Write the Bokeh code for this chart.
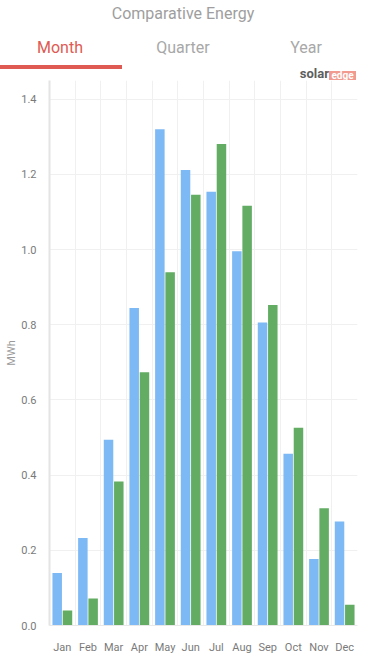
from bokeh.plotting import figure
from bokeh.models import Range1d, FixedTicker, ColumnDataSource, PrintfTickFormatter, Div
from bokeh.layouts import column
from bokeh.transform import dodge
from bokeh.embed import file_html
from bokeh.resources import INLINE

title = "Comparative Energy"
tabs = ["Month", "Quarter", "Year"]
months = ["Jan", "Feb", "Mar", "Apr", "May", "Jun", "Jul", "Aug", "Sep", "Oct", "Nov", "Dec"]
series_blue = [0.140, 0.233, 0.494, 0.845, 1.320, 1.212, 1.154, 0.996, 0.806, 0.457, 0.177, 0.277]
series_green = [0.040, 0.072, 0.383, 0.674, 0.940, 1.146, 1.281, 1.117, 0.853, 0.526, 0.312, 0.055]
y_ticks = [0.0, 0.2, 0.4, 0.6, 0.8, 1.0, 1.2, 1.4]
y_label = "MWh"
logo_parts = ["solar", "edge"]

FONT = "Roboto"
BLUE = "#7db9f4"
GREEN = "#62ad63"
RED = "#de5a52"
GREY_TAB = "#a8a8a8"

W = 366
HEADER_H = 80
CHART_H = 576

# ---------------- header (HTML) ----------------
tab_centers = [60, 183, 306]
tab_colors = [RED, GREY_TAB, GREY_TAB]
spans = []
spans.append(
    f'<div style="position:absolute;left:0;top:6px;width:{W}px;text-align:center;'
    f'font-size:16px;line-height:16px;color:#9e9e9e;white-space:nowrap;">{title}</div>')
for cx, t, c in zip(tab_centers, tabs, tab_colors):
    spans.append(
        f'<div style="position:absolute;left:{cx - 50}px;top:40px;width:100px;text-align:center;'
        f'font-size:16px;line-height:16px;color:{c};white-space:nowrap;">{t}</div>')
spans.append(f'<div style="position:absolute;left:0;top:65px;width:122px;height:3.5px;'
             f'background:{RED};"></div>')
spans.append(
    f'<div style="position:absolute;left:229px;top:67px;width:100px;text-align:right;'
    f'font-size:13px;line-height:13px;font-weight:bold;color:#5e5e5e;">{logo_parts[0]}</div>')
spans.append(
    f'<div style="position:absolute;left:329px;top:70.5px;width:27px;height:9.5px;'
    f'background:#f19a8f;color:white;font-size:10px;line-height:9.5px;font-weight:bold;'
    f'text-align:center;overflow:hidden;">{logo_parts[1]}</div>')
html = (f'<div style="position:relative;width:{W}px;height:{HEADER_H}px;'
        f'font-family:{FONT},sans-serif;">' + "".join(spans) + '</div>')
header = Div(text=html, width=W, height=HEADER_H, margin=0)

# ---------------- chart ----------------
xs = [i + 0.5 for i in range(len(months))]
src = ColumnDataSource(dict(x=xs, blue=series_blue, green=series_green))

p = figure(width=W, height=CHART_H, x_range=Range1d(0, 12), y_range=Range1d(0, 1.450),
           toolbar_location=None, output_backend="svg",
           min_border_left=49, min_border_right=9, min_border_top=0, min_border_bottom=27,
           margin=0)
p.outline_line_color = None

p.vbar(x=dodge("x", -0.2, range=p.x_range), top="blue", width=0.37, source=src,
       fill_color=BLUE, line_color=None)
p.vbar(x=dodge("x", 0.2, range=p.x_range), top="green", width=0.37, source=src,
       fill_color=GREEN, line_color=None)

p.yaxis.ticker = FixedTicker(ticks=y_ticks)
p.yaxis.formatter = PrintfTickFormatter(format="%.1f")
p.xaxis.ticker = FixedTicker(ticks=xs)
p.xaxis.major_label_overrides = {x: m for x, m in zip(xs, months)}
p.xgrid.ticker = FixedTicker(ticks=list(range(len(months) + 1)))
p.xgrid.grid_line_color = "#f0f0f0"
p.ygrid.grid_line_color = "#f0f0f0"

for ax in (p.xaxis, p.yaxis):
    ax.major_tick_line_color = None
    ax.minor_tick_line_color = None
    ax.major_label_text_font = FONT
    ax.major_label_text_font_size = "11px"
    ax.major_label_text_color = "#7a7a7a"

p.yaxis.axis_line_color = "#e4e4e4"
p.yaxis.axis_line_width = 2
p.yaxis.major_label_standoff = 7
p.yaxis.axis_label = y_label
p.yaxis.axis_label_text_font = FONT
p.yaxis.axis_label_text_font_size = "11px"
p.yaxis.axis_label_text_font_style = "normal"
p.yaxis.axis_label_text_color = "#9a9a9a"
p.yaxis.axis_label_standoff = 0

p.xaxis.axis_line_color = "#e8e8e8"
p.xaxis.major_label_standoff = 9

layout = column(header, p, spacing=0)
open("out.html", "w").write(file_html(layout, INLINE))
